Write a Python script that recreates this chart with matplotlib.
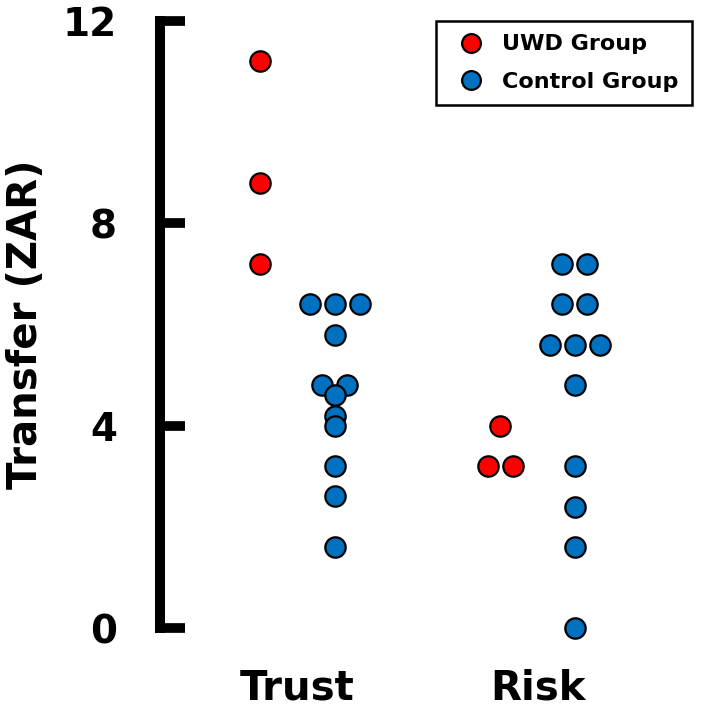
import matplotlib
matplotlib.use("Agg")
import matplotlib.pyplot as plt
from matplotlib.lines import Line2D

categories = ["Trust", "Risk"]
groups = ["UWD Group", "Control Group"]
colors = {"UWD Group": "#ff0000", "Control Group": "#0070c0"}

# values and swarm slot (horizontal slot index within its column)
trust_uwd = [11.2, 8.8, 7.2]
trust_uwd_slot = [0, 0, 0]
trust_ctrl = [6.4, 6.4, 6.4, 5.8, 4.8, 4.8, 4.6, 4.2, 4.0, 3.2, 2.6, 1.6]
trust_ctrl_slot = [-1, 0, 1, 0, -0.5, 0.5, 0, 0, 0, 0, 0, 0]
risk_uwd = [4.0, 3.2, 3.2]
risk_uwd_slot = [0, -0.5, 0.5]
risk_ctrl = [7.2, 7.2, 6.4, 6.4, 5.6, 5.6, 5.6, 4.8, 3.2, 2.4, 1.6, 0.0]
risk_ctrl_slot = [-0.5, 0.5, -0.5, 0.5, -1, 0, 1, 0, 0, 0, 0, 0]

yticks = [0, 4, 8, 12]

plt.rcParams['font.family'] = ['DejaVu Sans']
plt.rcParams['font.weight'] = 'bold'

fig = plt.figure(figsize=(7.01, 7.11), dpi=100)
L = 160 / 701
R = 690 / 701
B = (711 - 628) / 711
T = (711 - 21) / 711
ax = fig.add_axes([L, B, R - L, T - B])

gofs = 0.156
slot_w = 0.104
ms = 215
series = [
    (0, -gofs, trust_uwd, trust_uwd_slot, "UWD Group"),
    (0, gofs, trust_ctrl, trust_ctrl_slot, "Control Group"),
    (1, -gofs, risk_uwd, risk_uwd_slot, "UWD Group"),
    (1, gofs, risk_ctrl, risk_ctrl_slot, "Control Group"),
]
for cx, off, vals, slots, g in series:
    xs = [cx + off + s * slot_w for s in slots]
    ax.scatter(xs, vals, s=ms, c=colors[g], edgecolors="black",
               linewidths=1.6, zorder=3, clip_on=False)

ax.set_xlim(-137.5 / 240, 1 + 152.5 / 240)
ax.set_ylim(0, 12)
ax.set_yticks(yticks)
ax.set_yticklabels([str(t) for t in yticks], fontsize=28, fontweight='bold')
ax.set_xticks([0, 1])
ax.set_xticklabels(categories, fontsize=29, fontweight='bold')
ax.tick_params(axis='x', length=0, pad=29)
ax.tick_params(axis='y', direction='in', length=18, width=7, pad=31)
for s in ["top", "right", "bottom"]:
    ax.spines[s].set_visible(False)
ax.spines["left"].set_linewidth(7.2)
ax.spines["left"].set_capstyle("projecting")
ax.set_ylabel("Transfer (ZAR)", fontsize=29, fontweight='bold', labelpad=12)

handles = [Line2D([], [], marker='o', linestyle='none', markersize=13.5,
                  markerfacecolor=colors[g], markeredgecolor='black',
                  markeredgewidth=1.6) for g in groups]
leg = ax.legend(handles, groups, loc='upper right', bbox_to_anchor=(692 / 701, (711 - 21) / 711),
                bbox_transform=fig.transFigure, fontsize=16, frameon=True,
                fancybox=False, edgecolor='black', framealpha=1.0,
                handletextpad=0.4, borderpad=0.6, labelspacing=0.8,
                handlelength=2.0, borderaxespad=0)
leg.get_frame().set_linewidth(1.8)
for t in leg.get_texts():
    t.set_fontweight('bold')

fig.savefig("out.png", dpi=100)
